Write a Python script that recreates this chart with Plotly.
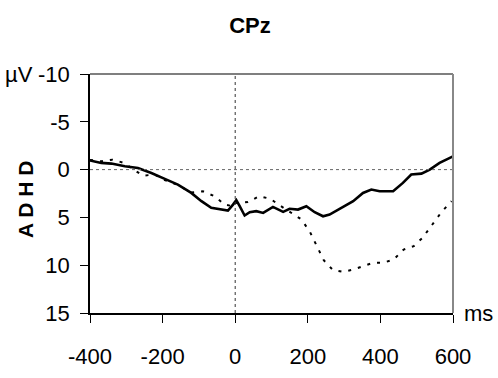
import plotly.graph_objects as go

# Solid curve (ms, µV)
solid_ms = [-400, -369, -341, -304, -268, -231, -194, -158, -121, -93, -66, -38, -20, -6, 3, 12, 26, 40,
            58, 77, 104, 132, 150, 173, 196, 219, 242, 260, 288, 311, 325, 352, 375, 398, 435, 462, 485,
            513, 536, 563, 600]
solid_uv = [-0.95, -0.7, -0.63, -0.35, -0.17, 0.35, 0.97, 1.57, 2.44, 3.3, 4.0, 4.18, 4.28, 3.66, 3.2, 3.8,
            4.8, 4.45, 4.35, 4.53, 3.9, 4.42, 4.1, 4.18, 3.83, 4.46, 4.88, 4.7, 4.1, 3.55, 3.3, 2.44, 2.09,
            2.27, 2.27, 1.39, 0.52, 0.42, 0.0, -0.7, -1.39]

# Dotted curve (ms, µV)
dotted_ms = [-400, -369, -338, -306, -280, -254, -222, -194, -158, -121, -89, -57, -29, -6, -1, 35, 66, 97,
             125, 155, 182, 205, 225, 244, 269, 297, 325, 352, 380, 407, 437, 464, 492, 516, 543, 568, 596]
dotted_uv = [-1.0, -0.87, -1.04, -0.7, 0.0, 0.63, 0.52, 1.1, 1.6, 2.4, 2.27, 2.78, 3.66, 3.83, 3.5, 3.4,
             2.78, 3.06, 3.8, 4.53, 5.2, 6.45, 8.08, 9.48, 10.5, 10.7, 10.45, 10.1, 9.75, 9.75, 9.4, 8.36,
             8.0, 7.14, 5.75, 4.46, 3.3]

x_ticks = [-400, -200, 0, 200, 400, 600]
y_ticks = [-10, -5, 0, 5, 10, 15]

FONT = "Liberation Sans, Arial, sans-serif"

fig = go.Figure()
fig.add_trace(go.Scatter(x=dotted_ms, y=dotted_uv, mode="lines",
                         line=dict(color="black", width=2, dash="3px,7px"), showlegend=False))
fig.add_trace(go.Scatter(x=solid_ms, y=solid_uv, mode="lines",
                         line=dict(color="black", width=2.6), showlegend=False))

fig.update_layout(
    width=498, height=378,
    margin=dict(l=90, r=45, t=74, b=65, autoexpand=False),
    paper_bgcolor="white", plot_bgcolor="white",
    font=dict(family=FONT, size=22, color="black"),
    title=dict(text="<b>CPz</b>", x=250/498, xanchor="center", y=1-25/378, yanchor="middle",
               font=dict(family=FONT, size=22, color="black")),
    xaxis=dict(range=[-400, 600], tickvals=x_ticks, ticktext=[str(v) for v in x_ticks],
               showgrid=False, zeroline=False, showline=True, linecolor="black", linewidth=1.5,
               ticks="outside", ticklen=8, tickcolor="black", ticklabelstandoff=15),
    yaxis=dict(range=[15, -10], tickvals=y_ticks, ticktext=[str(v) for v in y_ticks],
               showgrid=False, zeroline=False, showline=True, linecolor="black", linewidth=1.5,
               ticks="outside", ticklen=8, tickcolor="black", ticklabelstandoff=6),
    shapes=[
        dict(type="line", xref="paper", yref="y", x0=0, x1=1, y0=0, y1=0,
             line=dict(color="#666666", width=1, dash="dot")),
        dict(type="line", xref="x", yref="paper", x0=0, x1=0, y0=0, y1=1,
             line=dict(color="#333333", width=1, dash="dot")),
        dict(type="line", xref="paper", yref="paper", x0=0, x1=1, y0=1, y1=1,
             line=dict(color="#555555", width=1.5)),
        dict(type="line", xref="paper", yref="paper", x0=1, x1=1, y0=0, y1=1,
             line=dict(color="#888888", width=2)),
    ],
    annotations=[
        dict(text="µV", xref="paper", yref="y", x=-0.152, y=-10, xanchor="right", yanchor="middle",
             showarrow=False, font=dict(family=FONT, size=22)),
        dict(text="ms", xref="paper", yref="y", x=1.025, y=15, xanchor="left", yanchor="middle",
             showarrow=False, font=dict(family=FONT, size=22)),
        dict(text="<b>A D H D</b>", xref="paper", yref="paper", x=-0.176, y=0.473, xanchor="center",
             yanchor="middle", textangle=-90, showarrow=False, font=dict(family=FONT, size=21)),
    ],
)

fig.write_html("out.html")
